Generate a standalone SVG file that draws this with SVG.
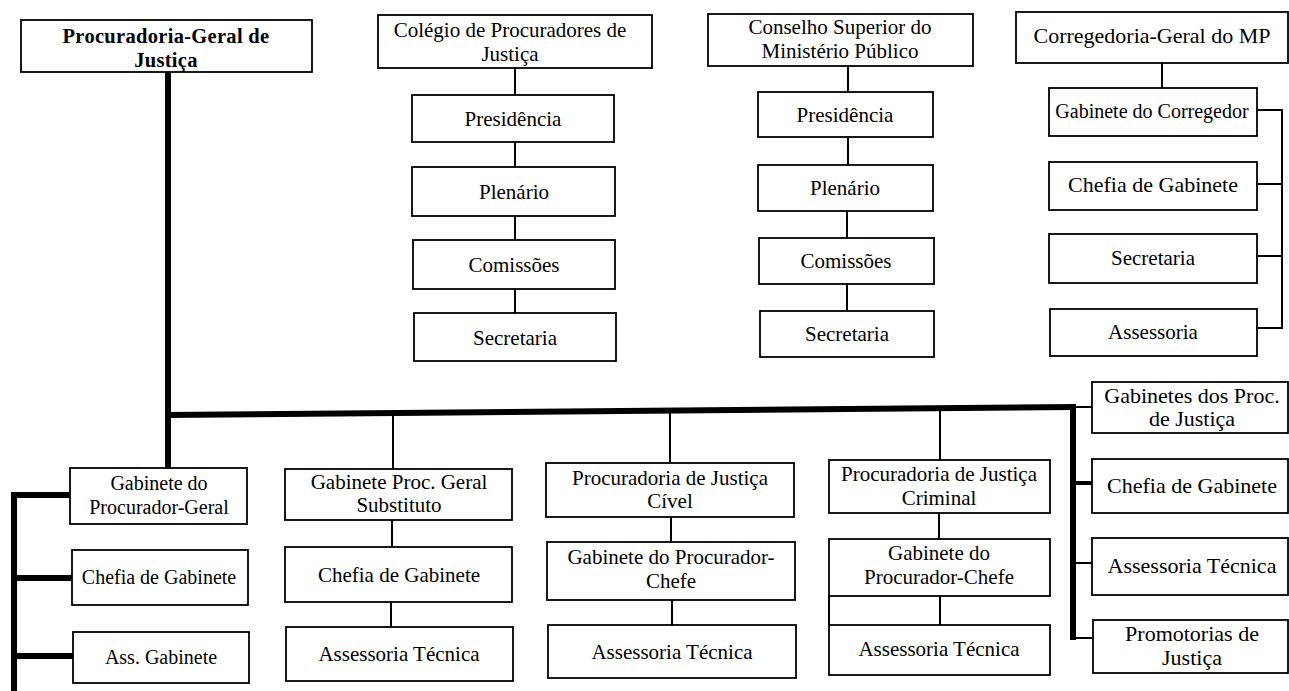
<svg xmlns="http://www.w3.org/2000/svg" width="1289" height="691" viewBox="0 0 1289 691">
<style>
.b{fill:#fff;stroke:#000;stroke-width:1.8}
.t{font-family:"Liberation Serif","Times New Roman",serif;font-size:21px;fill:#000;text-anchor:middle}
.tb{font-weight:bold;font-size:20.5px;letter-spacing:0.3px}
.s20{font-size:20px}
.s22{font-size:22px}
.c{stroke:#000;stroke-width:2;fill:none}
.k{stroke:#000;stroke-width:6;fill:none}
.m{stroke:#000;stroke-width:4;fill:none}
</style>
<rect width="1289" height="691" fill="#fff"/>
<g id="connectors">
<line class="k" x1="168" y1="72" x2="168" y2="468"/>
<line class="k" x1="165" y1="415" x2="1073" y2="407"/>
<line class="k" x1="1073" y1="404" x2="1073" y2="640"/>
<line class="c" x1="1073" y1="407" x2="1092" y2="407"/>
<line class="m" x1="1073" y1="483" x2="1092" y2="483"/>
<line class="c" x1="1073" y1="563" x2="1092" y2="563"/>
<line class="c" x1="1073" y1="638" x2="1093" y2="638"/>
<line class="k" x1="14" y1="492" x2="14" y2="691"/>
<line class="k" x1="11" y1="495" x2="70" y2="495"/>
<line class="k" x1="11" y1="578" x2="72" y2="578"/>
<line class="k" x1="11" y1="656" x2="73" y2="656"/>
<line class="c" x1="515" y1="68" x2="515" y2="95"/>
<line class="c" x1="515" y1="142" x2="515" y2="167"/>
<line class="c" x1="515" y1="216" x2="515" y2="240"/>
<line class="c" x1="515" y1="289" x2="515" y2="313"/>
<line class="c" x1="848" y1="66" x2="848" y2="92"/>
<line class="c" x1="848" y1="137" x2="848" y2="165"/>
<line class="c" x1="847" y1="211" x2="847" y2="238"/>
<line class="c" x1="847" y1="284" x2="847" y2="311"/>
<line class="c" x1="1162" y1="63" x2="1162" y2="88"/>
<line class="c" x1="1257" y1="110" x2="1282" y2="110"/>
<line class="c" x1="1257" y1="184" x2="1282" y2="184"/>
<line class="c" x1="1257" y1="256" x2="1282" y2="256"/>
<line class="c" x1="1257" y1="328" x2="1282" y2="328"/>
<line class="c" x1="1282" y1="109" x2="1282" y2="329"/>
<line class="c" x1="393" y1="414" x2="393" y2="469"/>
<line class="c" x1="392" y1="520" x2="392" y2="547"/>
<line class="c" x1="391" y1="602" x2="391" y2="627"/>
<line class="c" x1="670" y1="412" x2="670" y2="463"/>
<line class="c" x1="671" y1="517" x2="671" y2="542"/>
<line class="c" x1="672" y1="600" x2="672" y2="625"/>
<line class="c" x1="940" y1="408" x2="940" y2="460"/>
<line class="c" x1="939" y1="513" x2="939" y2="539"/>
<line class="c" x1="940" y1="596" x2="940" y2="625"/>
<line class="c" x1="829" y1="596" x2="829" y2="625"/>
</g>
<g id="pgj"><rect class="b" x="21" y="20" width="291" height="52"/><text class="t tb" x="166" y="43">Procuradoria-Geral de</text><text class="t tb" x="166" y="67">Justiça</text></g>
<g id="colegio"><rect class="b" x="378" y="15" width="274" height="53"/><text class="t" x="510" y="37">Colégio de Procuradores de</text><text class="t" x="510" y="61">Justiça</text></g>
<g id="col-presidencia"><rect class="b" x="412" y="95" width="202" height="47"/><text class="t" x="513" y="126">Presidência</text></g>
<g id="col-plenario"><rect class="b" x="412" y="167" width="203" height="49"/><text class="t" x="514" y="199">Plenário</text></g>
<g id="col-comissoes"><rect class="b" x="413" y="240" width="202" height="49"/><text class="t" x="514" y="272">Comissões</text></g>
<g id="col-secretaria"><rect class="b" x="414" y="313" width="202" height="48"/><text class="t" x="515" y="345">Secretaria</text></g>
<g id="conselho"><rect class="b" x="708" y="14" width="265" height="52"/><text class="t" x="840" y="34">Conselho Superior do</text><text class="t" x="840" y="58">Ministério Público</text></g>
<g id="cons-presidencia"><rect class="b" x="758" y="92" width="175" height="45"/><text class="t" x="845" y="122">Presidência</text></g>
<g id="cons-plenario"><rect class="b" x="758" y="165" width="175" height="46"/><text class="t" x="845" y="195">Plenário</text></g>
<g id="cons-comissoes"><rect class="b" x="759" y="238" width="175" height="46"/><text class="t" x="846" y="268">Comissões</text></g>
<g id="cons-secretaria"><rect class="b" x="760" y="311" width="174" height="46"/><text class="t" x="847" y="341">Secretaria</text></g>
<g id="corregedoria"><rect class="b" x="1016" y="12" width="272" height="51"/><text class="t s22" x="1152" y="43">Corregedoria-Geral do MP</text></g>
<g id="cor-gabinete"><rect class="b" x="1049" y="88" width="208" height="48"/><text class="t s20" x="1152" y="118">Gabinete do Corregedor</text></g>
<g id="cor-chefia"><rect class="b" x="1049" y="162" width="208" height="48"/><text class="t s22" x="1153" y="192">Chefia de Gabinete</text></g>
<g id="cor-secretaria"><rect class="b" x="1049" y="234" width="208" height="49"/><text class="t" x="1153" y="265">Secretaria</text></g>
<g id="cor-assessoria"><rect class="b" x="1050" y="309" width="207" height="47"/><text class="t" x="1153" y="339">Assessoria</text></g>
<g id="gab-pg"><rect class="b" x="70" y="468" width="177" height="56"/><text class="t s20" x="159" y="490">Gabinete do</text><text class="t s20" x="159" y="514">Procurador-Geral</text></g>
<g id="gab-pg-chefia"><rect class="b" x="72" y="550" width="176" height="55"/><text class="t s20" x="159" y="584">Chefia de Gabinete</text></g>
<g id="gab-pg-ass"><rect class="b" x="73" y="632" width="176" height="51"/><text class="t s20" x="161" y="664">Ass. Gabinete</text></g>
<g id="substituto"><rect class="b" x="285" y="469" width="227" height="51"/><text class="t" x="399" y="489">Gabinete Proc. Geral</text><text class="t" x="399" y="512">Substituto</text></g>
<g id="sub-chefia"><rect class="b" x="285" y="547" width="227" height="55"/><text class="t" x="399" y="582">Chefia de Gabinete</text></g>
<g id="sub-assessoria"><rect class="b" x="286" y="627" width="227" height="54"/><text class="t" x="399" y="661">Assessoria Técnica</text></g>
<g id="civel"><rect class="b" x="546" y="463" width="248" height="54"/><text class="t" x="670" y="485">Procuradoria de Justiça</text><text class="t" x="670" y="508">Cível</text></g>
<g id="civel-gab"><rect class="b" x="547" y="542" width="248" height="58"/><text class="t" x="671" y="564">Gabinete do Procurador-</text><text class="t" x="671" y="588">Chefe</text></g>
<g id="civel-ass"><rect class="b" x="548" y="625" width="248" height="53"/><text class="t" x="672" y="659">Assessoria Técnica</text></g>
<g id="criminal"><rect class="b" x="829" y="460" width="221" height="53"/><text class="t" x="939" y="481">Procuradoria de Justiça</text><text class="t" x="939" y="505">Criminal</text></g>
<g id="criminal-gab"><rect class="b" x="829" y="539" width="221" height="57"/><text class="t" x="939" y="560">Gabinete do</text><text class="t" x="939" y="584">Procurador-Chefe</text></g>
<g id="criminal-ass"><rect class="b" x="829" y="625" width="221" height="50"/><text class="t" x="939" y="656">Assessoria Técnica</text></g>
<g id="gab-proc"><rect class="b" x="1092" y="382" width="196" height="51"/><text class="t s22" x="1192" y="403">Gabinetes dos Proc.</text><text class="t s22" x="1192" y="426">de Justiça</text></g>
<g id="r-chefia"><rect class="b" x="1092" y="459" width="196" height="54"/><text class="t s22" x="1192" y="493">Chefia de Gabinete</text></g>
<g id="r-assessoria"><rect class="b" x="1092" y="538" width="196" height="57"/><text class="t s22" x="1192" y="573">Assessoria Técnica</text></g>
<g id="promotorias"><rect class="b" x="1093" y="620" width="195" height="53"/><text class="t s22" x="1192" y="641">Promotorias de</text><text class="t s22" x="1192" y="665">Justiça</text></g>
</svg>
